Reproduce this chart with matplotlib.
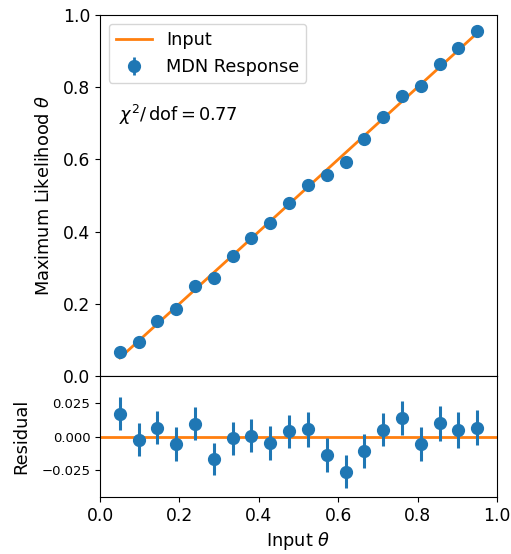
import numpy as np
import matplotlib
matplotlib.use("Agg")
import matplotlib.pyplot as plt

# Data
theta_in = np.linspace(0.05, 0.95, 20)
residual = [0.0173, -0.0020, 0.0067, -0.0057, 0.0099, -0.0166, -0.0010, 0.0007,
            -0.0045, 0.0040, 0.0057, -0.0136, -0.0260, -0.0104, 0.0054, 0.0141,
            -0.0052, 0.0101, 0.0050, 0.0067]
res_err = [0.0122, 0.0126, 0.0124, 0.0127, 0.0124, 0.0123, 0.0123, 0.0124,
           0.0127, 0.0126, 0.0130, 0.0129, 0.0125, 0.0126, 0.0126, 0.0125,
           0.0127, 0.0130, 0.0132, 0.0130]
theta_out = theta_in + np.array(residual)
chi2_text = r"$\chi^2/\,\mathrm{dof} = 0.77$"

blue = "#1f77b4"
orange = "#ff7f0e"
lab_fs = 12.8
tick_fs = 12.3

fig = plt.figure(figsize=(5.11, 5.54), dpi=100)
ax = fig.add_axes([0.1957, 0.3213, 0.7769, 0.6516])
axr = fig.add_axes([0.1957, 0.1029, 0.7769, 0.2184], sharex=ax)

ax.plot(theta_in, theta_in, color=orange, lw=2, label="Input", zorder=1)
ax.errorbar(theta_in, theta_out, yerr=np.array(res_err) * 0.0, fmt="o", ms=8.5,
            color=blue, elinewidth=2, label="MDN Response", zorder=2)
ax.set_xlim(0, 1)
ax.set_ylim(0, 1)
ax.set_ylabel(r"Maximum Likelihood $\theta$", fontsize=lab_fs, labelpad=7)
ax.tick_params(labelsize=tick_fs, labelbottom=False, bottom=False)
ax.legend(loc="upper left", fontsize=lab_fs)
ax.text(0.048, 0.723, chi2_text, fontsize=lab_fs, va="center", ha="left")

axr.axhline(0, color=orange, lw=2, zorder=1)
axr.errorbar(theta_in, residual, yerr=res_err, fmt="o", ms=8.5, color=blue,
             elinewidth=2.2, zorder=2)
axr.set_ylim(-0.045, 0.0455)
axr.set_yticks([-0.025, 0.0, 0.025])
axr.tick_params(axis="y", labelsize=9.5)
axr.tick_params(axis="x", labelsize=tick_fs)
axr.set_ylabel("Residual", fontsize=lab_fs, labelpad=8)
axr.set_xlabel(r"Input $\theta$", fontsize=lab_fs)
axr.set_xticks([0, 0.2, 0.4, 0.6, 0.8, 1.0])

fig.savefig("out.png", dpi=100)
